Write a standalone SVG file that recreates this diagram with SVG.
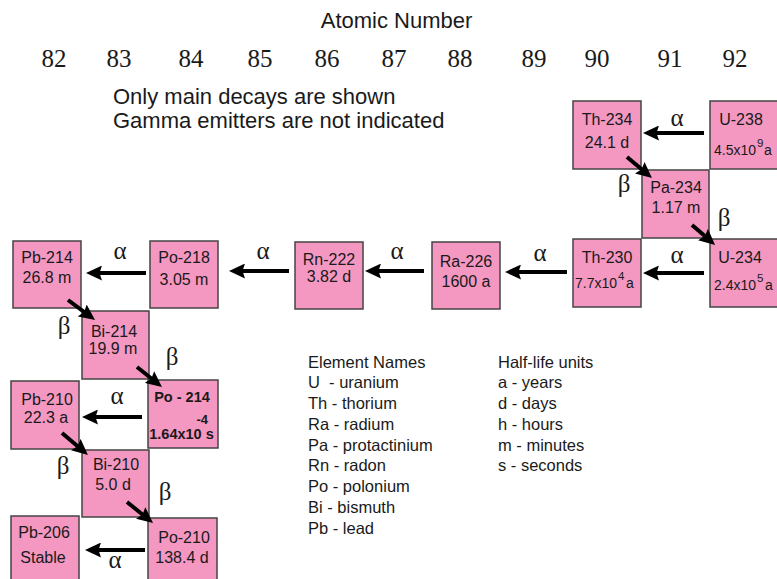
<svg xmlns="http://www.w3.org/2000/svg" width="777" height="579" viewBox="0 0 777 579">
<defs>
<style>
.box{fill:#F497C1;stroke:#444;stroke-width:1.5}
.t{font-family:"Liberation Sans",Arial,sans-serif;font-size:16px;fill:#1a1a1a;text-anchor:middle}
.s{font-family:"Liberation Sans",Arial,sans-serif;font-size:14px;fill:#1a1a1a}
.sup{font-family:"Liberation Sans",Arial,sans-serif;font-size:11.5px;fill:#1a1a1a}
.b{font-family:"Liberation Sans",Arial,sans-serif;font-size:14.5px;font-weight:bold;fill:#1a1a1a}
.g{font-family:"Liberation Serif","Times New Roman",serif;font-size:25px;fill:#1a1a1a;text-anchor:middle}
.n{font-family:"Liberation Serif","Times New Roman",serif;font-size:25px;fill:#1a1a1a;text-anchor:middle}
.h{font-family:"Liberation Sans",Arial,sans-serif;font-size:22px;fill:#1a1a1a}
.l{font-family:"Liberation Sans",Arial,sans-serif;font-size:16.5px;fill:#1a1a1a;white-space:pre}
.a{stroke:#000;stroke-width:4;fill:none;marker-end:url(#ah)}
</style>
<marker id="ah" markerUnits="userSpaceOnUse" markerWidth="16" markerHeight="15" refX="4" refY="7.5" orient="auto" viewBox="0 0 16 15"><path d="M0,0 L16,7.5 L0,15 L2.5,7.5 z" fill="#000"/></marker>
</defs>

<g id="header">
<text class="h" x="396.5" y="28" text-anchor="middle">Atomic Number</text>
<text class="n" x="54" y="67">82</text>
<text class="n" x="119" y="67">83</text>
<text class="n" x="191" y="67">84</text>
<text class="n" x="260" y="67">85</text>
<text class="n" x="327" y="67">86</text>
<text class="n" x="394" y="67">87</text>
<text class="n" x="460" y="67">88</text>
<text class="n" x="534" y="67">89</text>
<text class="n" x="597" y="67">90</text>
<text class="n" x="670" y="67">91</text>
<text class="n" x="735" y="67">92</text>
<text class="h" x="113" y="104">Only main decays are shown</text>
<text class="h" x="113" y="128">Gamma emitters are not indicated</text>
</g>

<g id="U-238"><rect class="box" x="710" y="101" width="72" height="68"/>
<text class="t" x="741" y="125">U-238</text>
<text class="s" x="714" y="155">4.5x10</text><text class="sup" x="757" y="147">9</text><text class="s" x="764" y="155">a</text></g>

<g id="Th-234"><rect class="box" x="573" y="101" width="68" height="68"/>
<text class="t" x="607" y="125">Th-234</text><text class="t" x="607" y="148">24.1 d</text></g>

<g id="Pa-234"><rect class="box" x="642" y="170" width="67" height="68"/>
<text class="t" x="676" y="193">Pa-234</text><text class="t" x="676" y="213">1.17 m</text></g>

<g id="U-234"><rect class="box" x="710" y="239" width="72" height="68"/>
<text class="t" x="740" y="263">U-234</text>
<text class="s" x="714" y="290">2.4x10</text><text class="sup" x="757" y="282">5</text><text class="s" x="765" y="290">a</text></g>

<g id="Th-230"><rect class="box" x="573" y="239" width="68" height="68"/>
<text class="t" x="607" y="263">Th-230</text>
<text class="s" x="575" y="288">7.7x10</text><text class="sup" x="618" y="280">4</text><text class="s" x="626" y="288">a</text></g>

<g id="Ra-226"><rect class="box" x="432" y="242" width="68" height="67"/>
<text class="t" x="466" y="267">Ra-226</text><text class="t" x="466" y="287">1600 a</text></g>

<g id="Rn-222"><rect class="box" x="295" y="242" width="68" height="67"/>
<text class="t" x="329" y="265">Rn-222</text><text class="t" x="329" y="282">3.82 d</text></g>

<g id="Po-218"><rect class="box" x="150" y="241" width="68" height="67"/>
<text class="t" x="184" y="263">Po-218</text><text class="t" x="184" y="285">3.05 m</text></g>

<g id="Pb-214"><rect class="box" x="13" y="241" width="68" height="67"/>
<text class="t" x="47" y="263">Pb-214</text><text class="t" x="47" y="283">26.8 m</text></g>

<g id="Bi-214"><rect class="box" x="82" y="311" width="67" height="68"/>
<text class="t" x="114" y="337">Bi-214</text><text class="t" x="113" y="354">19.9 m</text></g>

<g id="Pb-210"><rect class="box" x="11" y="381" width="68" height="68"/>
<text class="t" x="47" y="405">Pb-210</text><text class="t" x="46" y="423">22.3 a</text></g>

<g id="Po-214"><rect class="box" x="148" y="380" width="70" height="68"/>
<text class="b" x="182" y="402" text-anchor="middle">Po - 214</text>
<text class="b" x="208" y="424" text-anchor="end" style="font-size:13px">-4</text>
<text class="b" x="181.5" y="439" text-anchor="middle">1.64x10 s</text></g>

<g id="Bi-210"><rect class="box" x="82" y="450" width="67" height="67"/>
<text class="t" x="116" y="470">Bi-210</text><text class="t" x="113" y="490">5.0 d</text></g>

<g id="Pb-206"><rect class="box" x="11" y="516" width="68" height="75"/>
<text class="t" x="44" y="538">Pb-206</text><text class="t" x="43" y="563">Stable</text></g>

<g id="Po-210"><rect class="box" x="148" y="518" width="69" height="75"/>
<text class="t" x="184" y="543">Po-210</text><text class="t" x="182" y="563">138.4 d</text></g>

<g id="connectors">
<line class="a" x1="704" y1="133" x2="655" y2="133"/>
<line class="a" x1="704" y1="273" x2="655" y2="273"/>
<line class="a" x1="567" y1="272" x2="517" y2="272"/>
<line class="a" x1="424" y1="271" x2="377" y2="271"/>
<line class="a" x1="289" y1="271" x2="241" y2="271"/>
<line class="a" x1="146" y1="273" x2="98" y2="273"/>
<line class="a" x1="142" y1="417" x2="94" y2="417"/>
<line class="a" x1="145" y1="550" x2="97" y2="550"/>
<line class="a" x1="627" y1="157" x2="642.8" y2="170.3"/>
<line class="a" x1="692" y1="225" x2="706" y2="237.1"/>
<line class="a" x1="68" y1="300" x2="85.4" y2="312.9"/>
<line class="a" x1="137" y1="367" x2="152.6" y2="379.5"/>
<line class="a" x1="62" y1="433" x2="78.8" y2="447.2"/>
<line class="a" x1="127" y1="502" x2="143.7" y2="515.5"/>
</g>

<g id="labels">
<text class="g" x="677" y="126">α</text>
<text class="g" x="677" y="263">α</text>
<text class="g" x="540" y="261">α</text>
<text class="g" x="397" y="259">α</text>
<text class="g" x="263" y="259">α</text>
<text class="g" x="120" y="259">α</text>
<text class="g" x="117" y="404">α</text>
<text class="g" x="115" y="568">α</text>
<text class="g" x="624" y="192">β</text>
<text class="g" x="724" y="226">β</text>
<text class="g" x="64" y="334">β</text>
<text class="g" x="172" y="365">β</text>
<text class="g" x="63" y="474">β</text>
<text class="g" x="165" y="500">β</text>
</g>

<g id="legend">
<text class="l" x="308" y="367.5">Element Names</text>
<text class="l" x="308" y="388.25">U  - uranium</text>
<text class="l" x="308" y="409">Th - thorium</text>
<text class="l" x="308" y="429.75">Ra - radium</text>
<text class="l" x="308" y="450.5">Pa - protactinium</text>
<text class="l" x="308" y="471.25">Rn - radon</text>
<text class="l" x="308" y="492">Po - polonium</text>
<text class="l" x="308" y="512.75">Bi - bismuth</text>
<text class="l" x="308" y="533.5">Pb - lead</text>
<text class="l" x="498" y="367.5">Half-life units</text>
<text class="l" x="498" y="388.25">a - years</text>
<text class="l" x="498" y="409">d - days</text>
<text class="l" x="498" y="429.75">h - hours</text>
<text class="l" x="498" y="450.5">m - minutes</text>
<text class="l" x="498" y="471.25">s - seconds</text>
</g>
</svg>
